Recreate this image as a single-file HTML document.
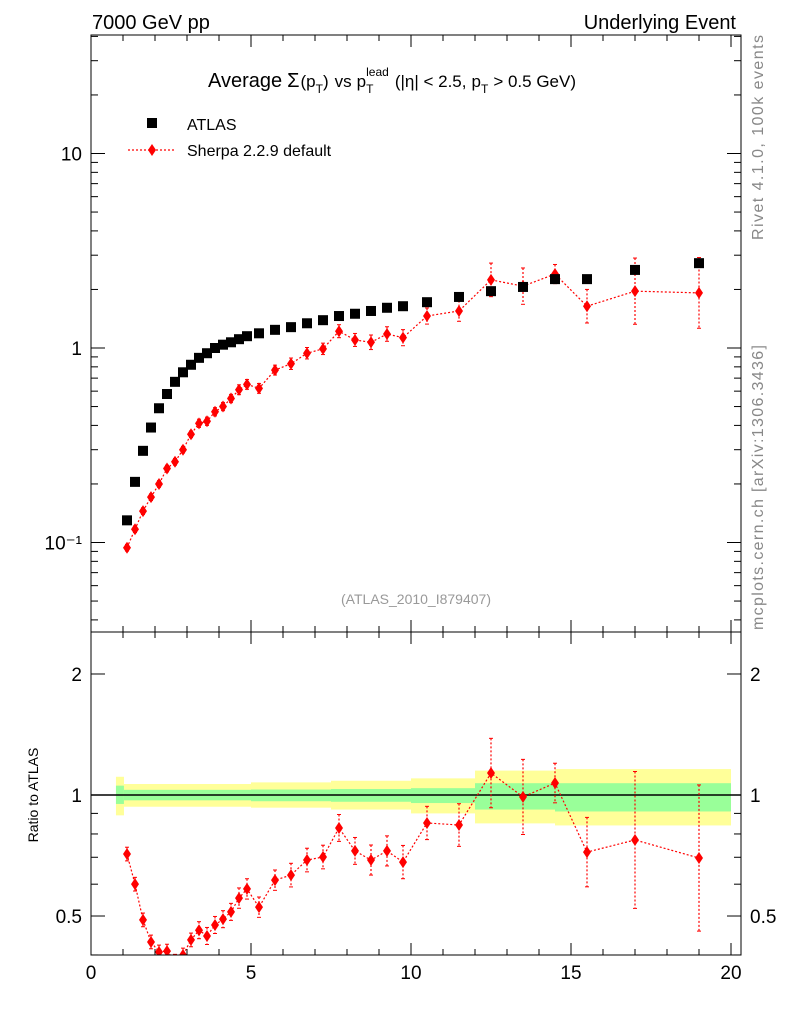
<!DOCTYPE html>
<html><head><meta charset="utf-8"><style>
body{margin:0;background:#fff;font-family:"Liberation Sans",sans-serif}
svg text{font-family:"Liberation Sans",sans-serif}
</style></head><body>
<svg id="c" width="786" height="1024" xmlns="http://www.w3.org/2000/svg">
<text x="92" y="29" font-size="20">7000 GeV pp</text>
<text x="736" y="29" font-size="20" text-anchor="end">Underlying Event</text>
<text transform="translate(763,240) rotate(-90)" font-size="16" fill="#888" textLength="205" lengthAdjust="spacing">Rivet 4.1.0,  100k events</text>
<text transform="translate(763,630) rotate(-90)" font-size="16" fill="#888" textLength="285" lengthAdjust="spacing">mcplots.cern.ch [arXiv:1306.3436]</text>
<g id="title"></g>
<text x="416" y="604" font-size="14" fill="#999" text-anchor="middle">(ATLAS_2010_I879407)</text>
<text transform="translate(38,795) rotate(-90)" font-size="14" text-anchor="middle">Ratio to ATLAS</text>
<g id="g"></g>
</svg>
<script>
const xC=[1.125,1.375,1.625,1.875,2.125,2.375,2.625,2.875,3.125,3.375,3.625,3.875,4.125,4.375,4.625,4.875,5.25,5.75,6.25,6.75,7.25,7.75,8.25,8.75,9.25,9.75,10.5,11.5,12.5,13.5,14.5,15.5,17,19];
const atlas=[0.13,0.205,0.296,0.39,0.49,0.58,0.67,0.75,0.82,0.89,0.94,1.0,1.04,1.07,1.11,1.15,1.19,1.24,1.28,1.34,1.39,1.46,1.50,1.55,1.61,1.64,1.72,1.83,1.96,2.06,2.26,2.26,2.52,2.73];
const sherpa=[0.094,0.117,0.145,0.171,0.20,0.24,0.26,0.30,0.36,0.41,0.42,0.47,0.50,0.55,0.61,0.65,0.62,0.77,0.83,0.94,0.99,1.22,1.10,1.07,1.18,1.13,1.46,1.55,2.24,2.08,2.40,1.64,1.96,1.92];
const ratio=[0.713,0.600,0.489,0.431,0.407,0.409,0.386,0.40,0.436,0.461,0.446,0.475,0.491,0.512,0.554,0.584,0.526,0.614,0.632,0.689,0.701,0.828,0.726,0.689,0.726,0.681,0.852,0.842,1.134,0.989,1.071,0.721,0.773,0.697];
const relErr=[0.04,0.04,0.04,0.04,0.04,0.04,0.04,0.04,0.04,0.05,0.05,0.05,0.05,0.05,0.06,0.06,0.06,0.06,0.07,0.07,0.07,0.08,0.08,0.09,0.09,0.10,0.10,0.13,0.22,0.24,0.12,0.22,0.48,0.52];
const bandEdges=[0.78,1.03,5,7.5,10,12,14.5,20];
const yelHi=[1.11,1.065,1.075,1.085,1.10,1.15,1.16];
const yelLo=[0.89,0.935,0.93,0.92,0.90,0.85,0.84];
const grnHi=[1.055,1.03,1.032,1.035,1.04,1.07,1.07];
const grnLo=[0.95,0.97,0.965,0.962,0.955,0.92,0.91];
const mainTicks=[0.1,1,10];const mainTickLabels=["10\u207B\u00B9","1","10"];
const ratioTicks=[0.5,1,2];const ratioTickLabels=["0.5","1","2"];
const xTicks=[0,5,10,15,20];

const L=91,R=741,T=35,MB=632,RB=955;
const X=v=>L+v*32;
const Y=v=>348-Math.log10(v)*194.5;
const YR=v=>795-Math.log10(v)*402;
const g=document.getElementById('g');const NS='http://www.w3.org/2000/svg';
function el(t,a,p){const e=document.createElementNS(NS,t);for(const k in a)e.setAttribute(k,a[k]);(p||g).appendChild(e);return e;}
(function(){
 const tg=document.getElementById('title');let x=208;const by=87;
 function piece(s,size,dy,gap,adv){const t=el('text',{x:x+(gap||0),y:by+dy,'font-size':size},tg);t.textContent=s;const w=t.getComputedTextLength();if(adv!==false)x+=w+(gap||0);return w;}
 piece('Average',20,0);piece('Σ',20,0,5);piece('(p',17,0,1);piece('T',12,6);piece(')',17,0);piece('vs',17,0,6);piece('p',17,0,5);
 const x0=x;const w1=piece('lead',12,-11,0,false);piece('T',12,6);x=Math.max(x,x0+w1);
 piece('(|η| < 2.5,',17,0,6);piece('p',17,0,5);piece('T',12,6);piece('> 0.5 GeV)',17,0,5);
})();
const defs=el('defs',{});
const c1=el('clipPath',{id:'cm'},defs);el('rect',{x:L,y:T,width:R-L,height:MB-T},c1);
const c2=el('clipPath',{id:'cr'},defs);el('rect',{x:L,y:MB,width:R-L,height:RB-MB},c2);
const gm=el('g',{'clip-path':'url(#cm)'});

const gr=el('g',{'clip-path':'url(#cr)'});

for(let i=0;i<yelHi.length;i++){
 const x0=X(bandEdges[i]),x1=X(bandEdges[i+1]);
 const y=el('rect',{x:x0,y:YR(yelHi[i]),width:x1-x0,height:YR(yelLo[i])-YR(yelHi[i]),fill:'#ffff99'},gr);
 
 const gg=el('rect',{x:x0,y:YR(grnHi[i]),width:x1-x0,height:YR(grnLo[i])-YR(grnHi[i]),fill:'#99ff99'},gr);
 
}
el('line',{x1:L,x2:R,y1:YR(1),y2:YR(1),stroke:'#000','stroke-width':1.5},gr);
function series(par,yf,vals){
 const pts=xC.map((x,i)=>X(x)+','+yf(vals[i])).join(' ');
 const pl=el('polyline',{points:pts,fill:'none',stroke:'red','stroke-width':1.2,'stroke-dasharray':'2,2'},par);
 
 xC.forEach((x,i)=>{
  const v=vals[i],e=relErr[i],cx=X(x);
  const y0=yf(v*(1+e)),y1=yf(v/(1+e));
  el('line',{x1:cx,x2:cx,y1:y0,y2:y1,stroke:'red','stroke-width':1.2,'stroke-dasharray':'2,2'},par);
  el('line',{x1:cx-2,x2:cx+2,y1:y0,y2:y0,stroke:'red'},par);
  el('line',{x1:cx-2,x2:cx+2,y1:y1,y2:y1,stroke:'red'},par);
  const cy=yf(v);
  const d=el('polygon',{points:`${cx},${cy-6} ${cx+4},${cy} ${cx},${cy+6} ${cx-4},${cy}`,fill:'red'},par);
  
 });
}
series(gm,Y,sherpa);
series(gr,YR,ratio);
atlas.forEach((v,i)=>{
 const s=el('rect',{x:X(xC[i])-5,y:Y(v)-5,width:10,height:10,fill:'#000'},gm);
 
});
el('rect',{x:L,y:T,width:R-L,height:MB-T,fill:'none',stroke:'#000','stroke-width':1});
el('rect',{x:L,y:MB,width:R-L,height:RB-MB,fill:'none',stroke:'#000','stroke-width':1});
for(let v=0;v<=20;v++){
 const x=X(v),maj=v%5==0,h=maj?12:6;
 for(const [yt,yb] of [[T,MB],[MB,RB]]){
  el('line',{x1:x,x2:x,y1:yb,y2:yb-h,stroke:'#000'});
  el('line',{x1:x,x2:x,y1:yt,y2:yt+h,stroke:'#000'});
 }
}
xTicks.forEach(v=>{const t=el('text',{x:X(v),y:979,'font-size':19,'text-anchor':'middle'});t.textContent=v;
 });
for(let d=-2;d<=1;d++)for(let m=1;m<=9;m++){
 const v=m*Math.pow(10,d),y=Y(v);if(y<T||y>MB)continue;
 const h=m==1?14:7;
 el('line',{x1:L,x2:L+h,y1:y,y2:y,stroke:'#000'});el('line',{x1:R,x2:R-h,y1:y,y2:y,stroke:'#000'});
}
mainTicks.forEach((v,i)=>{const t=el('text',{x:82,y:Y(v)+7,'font-size':19,'text-anchor':'end'});t.textContent=mainTickLabels[i];
 });
[0.4,0.5,0.6,0.7,0.8,0.9,1,2].forEach(v=>{const y=YR(v),h=ratioTicks.includes(v)?14:7;
 el('line',{x1:L,x2:L+h,y1:y,y2:y,stroke:'#000'});el('line',{x1:R,x2:R-h,y1:y,y2:y,stroke:'#000'});});
ratioTicks.forEach((v,i)=>{
 const t=el('text',{x:82,y:YR(v)+7,'font-size':19,'text-anchor':'end'});t.textContent=ratioTickLabels[i];
 
 const t2=el('text',{x:750,y:YR(v)+7,'font-size':19});t2.textContent=ratioTickLabels[i];
 
});
const lg=el('g',{});
el('rect',{x:147,y:118,width:10,height:10,fill:'#000'},lg);
const t1=el('text',{x:187,y:130,'font-size':16},lg);t1.textContent='ATLAS';
el('line',{x1:128,x2:176,y1:150,y2:150,stroke:'red','stroke-dasharray':'2,2','stroke-width':1.2},lg);
el('polygon',{points:'152,144 156,150 152,156 148,150',fill:'red'},lg);
const t2=el('text',{x:187,y:156,'font-size':16},lg);t2.textContent='Sherpa 2.2.9 default';
</script>
</body></html>
